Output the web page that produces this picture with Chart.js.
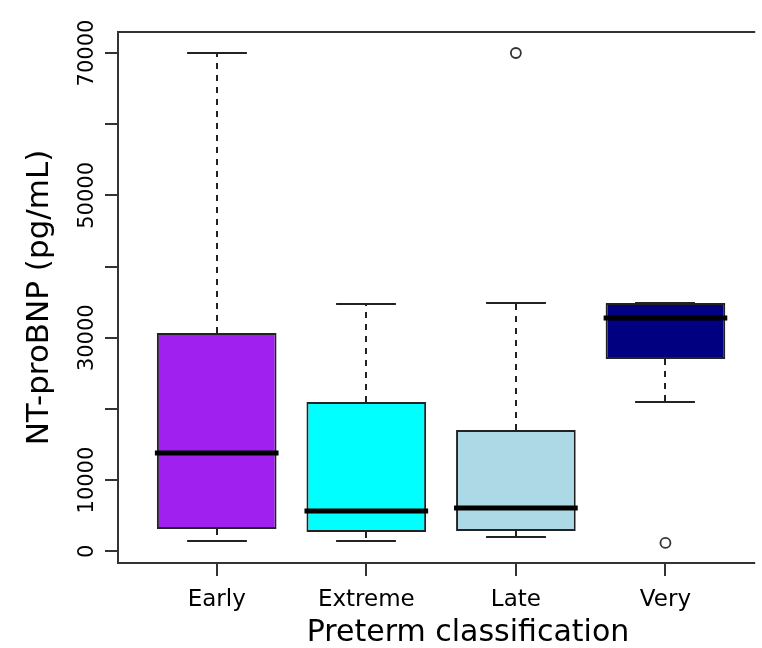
<!DOCTYPE html>
<html>
<head>
<meta charset="utf-8">
<script src="https://cdn.jsdelivr.net/npm/chart.js@4.4.0/dist/chart.umd.min.js"></script>
<style>
  html, body { margin: 0; padding: 0; background: #fff; overflow: hidden; }
  #wrap { width: 762px; height: 648px; }
</style>
</head>
<body>
<div id="wrap"><canvas id="bnpChart" width="762" height="648"></canvas></div>
<script>
// NT-proBNP by preterm group: five-number summaries + outliers
const groups = ["Early", "Extreme", "Late", "Very"];
const lowerWhisker = [1450, 1450, 2010, 20980];
const q1 = [3130, 2710, 2850, 27020];
const median = [13810, 5660, 6080, 32780];
const q3 = [30670, 20980, 17040, 34880];
const upperWhisker = [70000, 34740, 34880, 34880];
const outlierGroup = [3, 4];
const outlierValue = [70000, 1170];
const boxColors = ["#a020f0", "#00ffff", "#add8e6", "#000080"];
const yTicks = [0, 10000, 20000, 30000, 40000, 50000, 60000, 70000];
const yLabelled = [0, 10000, 30000, 50000, 70000];
const xTitle = "Preterm classification";

const fontFamily = "'DejaVu Sans', sans-serif";
const ink = "#000";
const tickLen = 13;

// whiskers and caps go under the boxes
const boxParts = {
  id: "boxParts",
  beforeDatasetsDraw(chart) {
    const ctx = chart.ctx;
    const xs = chart.scales.x;
    const ys = chart.scales.y;
    const bars = chart.getDatasetMeta(0).data;
    ctx.save();
    ctx.strokeStyle = "#222";
    ctx.lineWidth = 2;
    groups.forEach((g, i) => {
      const xc = Math.round(xs.getPixelForValue(i + 1));
      const half = bars[i].width / 4;
      ctx.setLineDash([6, 6]);
      ctx.beginPath();
      ctx.moveTo(xc, ys.getPixelForValue(q3[i]));
      ctx.lineTo(xc, ys.getPixelForValue(upperWhisker[i]));
      ctx.moveTo(xc, ys.getPixelForValue(q1[i]));
      ctx.lineTo(xc, ys.getPixelForValue(lowerWhisker[i]));
      ctx.stroke();
      ctx.setLineDash([]);
      ctx.beginPath();
      [upperWhisker[i], lowerWhisker[i]].forEach(v => {
        const yp = Math.round(ys.getPixelForValue(v));
        ctx.moveTo(xc - half, yp);
        ctx.lineTo(xc + half, yp);
      });
      ctx.stroke();
    });
    ctx.restore();
  },
  // medians on top of the boxes
  afterDatasetsDraw(chart) {
    const ctx = chart.ctx;
    const ys = chart.scales.y;
    const bars = chart.getDatasetMeta(0).data;
    ctx.save();
    ctx.strokeStyle = "#000";
    ctx.lineWidth = 5;
    bars.forEach((bar, i) => {
      const yp = ys.getPixelForValue(median[i]);
      ctx.beginPath();
      ctx.moveTo(bar.x - bar.width / 2 - 2, yp);
      ctx.lineTo(bar.x + bar.width / 2 + 2, yp);
      ctx.stroke();
    });
    ctx.restore();
  },
  // frame (open on the right, plot runs past the edge), x tick marks, x title
  afterDraw(chart) {
    const ctx = chart.ctx;
    const xs = chart.scales.x;
    const a = chart.chartArea;
    ctx.save();
    ctx.strokeStyle = "#333";
    ctx.lineWidth = 2;
    ctx.beginPath();
    ctx.moveTo(a.right, a.top);
    ctx.lineTo(a.left, a.top);
    ctx.lineTo(a.left, a.bottom);
    ctx.lineTo(a.right, a.bottom);
    groups.forEach((g, i) => {
      const xc = Math.round(xs.getPixelForValue(i + 1));
      ctx.moveTo(xc, a.bottom);
      ctx.lineTo(xc, a.bottom + tickLen);
    });
    ctx.stroke();
    // R centres the label on the full plot region, which is wider than the canvas
    ctx.fillStyle = ink;
    ctx.font = "30px " + fontFamily;
    ctx.textAlign = "center";
    ctx.textBaseline = "middle";
    ctx.fillText(xTitle, xs.getPixelForValue(2.68), a.bottom + 70);
    ctx.restore();
  }
};

new Chart(document.getElementById("bnpChart"), {
  type: "bar",
  data: {
    datasets: [{
      label: "IQR",
      data: groups.map((g, i) => ({ x: i + 1, y: [q1[i], q3[i]] })),
      backgroundColor: boxColors,
      borderColor: "#222",
      borderWidth: 2,
      borderSkipped: false,
      barPercentage: 0.8,
      categoryPercentage: 1
    }, {
      type: "scatter",
      label: "Outliers",
      data: outlierGroup.map((g, k) => ({ x: g, y: outlierValue[k] })),
      pointStyle: "circle",
      pointRadius: 5,
      pointBackgroundColor: "#fff",
      pointBorderColor: "#333",
      pointBorderWidth: 1.8,
      showLine: false
    }]
  },
  options: {
    responsive: false,
    animation: false,
    layout: { padding: { top: 32, right: 0, left: 0, bottom: 0 } },
    plugins: { legend: { display: false }, tooltip: { enabled: false } },
    scales: {
      x: {
        type: "linear",
        min: 0.34,
        max: 4.6,
        offset: false,
        afterBuildTicks: s => { s.ticks = groups.map((g, i) => ({ value: i + 1 })); },
        afterFit: s => { s.height = 85; },
        grid: { display: false, drawTicks: false },
        border: { display: false },
        ticks: {
          callback: (v, i) => groups[i],
          autoSkip: false,
          maxRotation: 0,
          padding: 23,
          color: ink,
          font: { family: fontFamily, size: 23 }
        }
      },
      y: {
        min: -1650,
        max: 72950,
        afterBuildTicks: s => { s.ticks = yTicks.map(v => ({ value: v })); },
        afterFit: s => { s.width = 118; },
        grid: { drawOnChartArea: false, drawTicks: true, tickLength: tickLen, color: "#333", lineWidth: 2 },
        border: { display: false },
        ticks: {
          callback: v => yLabelled.includes(v) ? String(v) : "",
          autoSkip: false,
          minRotation: 90,
          maxRotation: 90,
          crossAlign: "center",
          padding: -16,
          color: ink,
          font: { family: fontFamily, size: 21 }
        },
        title: {
          display: true,
          text: "NT-proBNP (pg/mL)",
          color: ink,
          font: { family: fontFamily, size: 31 },
          padding: { top: 21, bottom: 0 }
        }
      }
    }
  },
  plugins: [boxParts]
});
</script>
</body>
</html>
